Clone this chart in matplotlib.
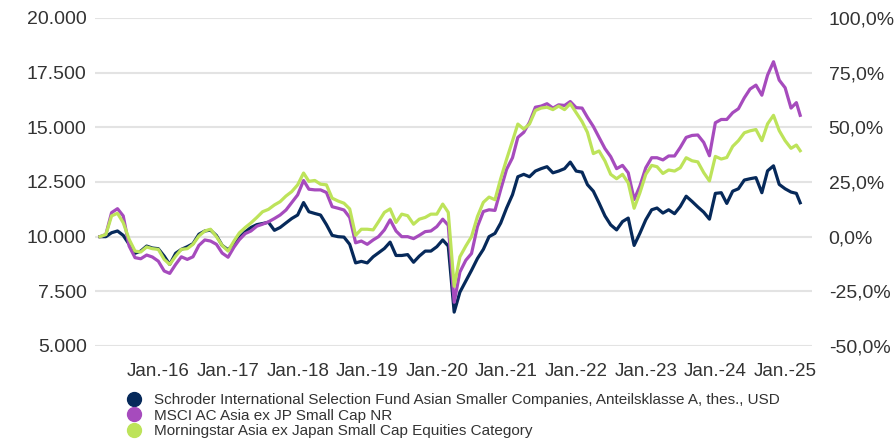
import matplotlib
matplotlib.use("Agg")
import matplotlib.pyplot as plt
import matplotlib.dates as mdates
from matplotlib.ticker import FuncFormatter, FixedLocator
from matplotlib.lines import Line2D
import pandas as pd

plt.rcParams['font.family'] = ['Liberation Sans', 'DejaVu Sans']

# monthly observations (Mar 2015 .. Mar 2025) plus last observation
dates = pd.date_range('2015-03-01', periods=121, freq='MS').append(pd.DatetimeIndex(['2025-03-21']))

schroder = [
    10000, 10000, 10180, 10260, 10060, 9650, 9240, 9340, 9570, 9480,
    9450, 9110, 8730, 9240, 9420, 9540, 9680, 10110, 10260, 10300,
    10050, 9600, 9400, 9680, 9950, 10220, 10420, 10550, 10600, 10660,
    10290, 10420, 10630, 10830, 10990, 11560, 11140, 11060, 10990, 10550,
    10060, 10000, 9980, 9650, 8800, 8870, 8800, 9080, 9260, 9460,
    9750, 9140, 9140, 9180, 8830, 9110, 9340, 9340, 9540, 9850,
    9570, 6550, 7460, 7970, 8460, 9000, 9420, 10000, 10150, 10620,
    11310, 11920, 12740, 12850, 12740, 13000, 13110, 13200, 12920, 13000,
    13110, 13410, 13000, 12950, 12380, 12080, 11540, 10950, 10540, 10310,
    10690, 10850, 9600, 10150, 10770, 11230, 11310, 11080, 11230, 11050,
    11380, 11850, 11610, 11360, 11120, 10800, 11980, 12010, 11520, 12080,
    12190, 12590, 12650, 12700, 12010, 13010, 13240, 12390, 12190, 12040,
    11980, 11550]

msci = [
    10000, 10100, 11100, 11280, 10950, 9570, 9040, 8990, 9160, 9070,
    8880, 8430, 8320, 8730, 9080, 8960, 9080, 9600, 9850, 9800,
    9650, 9250, 9060, 9520, 9860, 10140, 10260, 10480, 10570, 10680,
    10830, 10990, 11220, 11560, 11910, 12570, 12170, 12140, 12140, 12020,
    11370, 11300, 11220, 10880, 9720, 9800, 9650, 9850, 10000, 10310,
    10770, 10260, 10000, 10000, 9910, 10060, 10230, 10260, 10460, 10800,
    10520, 7000, 8380, 8920, 9230, 10460, 11150, 11230, 11200, 12150,
    13080, 13610, 14540, 14770, 15230, 15920, 15970, 16080, 15880, 16030,
    16000, 16180, 15900, 15880, 15460, 15040, 14540, 14030, 13660, 13110,
    13260, 12920, 11700, 12310, 13150, 13610, 13610, 13510, 13690, 13690,
    14080, 14540, 14630, 14650, 14310, 13700, 15210, 15360, 15360, 15670,
    15850, 16350, 16750, 16930, 16470, 17390, 18000, 17160, 16810, 15880,
    16130, 15550]

morningstar = [
    10000, 10100, 10950, 11070, 10640, 9880, 9340, 9300, 9530, 9450,
    9420, 8960, 8730, 9110, 9420, 9450, 9650, 10030, 10260, 10340,
    10000, 9600, 9340, 9800, 10170, 10420, 10630, 10880, 11140, 11250,
    11450, 11600, 11860, 12060, 12370, 12910, 12530, 12570, 12400, 12370,
    11760, 11630, 11530, 11270, 10060, 10340, 10340, 10310, 10680, 11110,
    11270, 10650, 11030, 10960, 10570, 10800, 10880, 11030, 11030, 11490,
    11110, 7730, 9080, 9570, 10000, 10920, 11570, 11810, 11690, 12650,
    13540, 14380, 15150, 14920, 15150, 15770, 15880, 15920, 15810, 15970,
    15810, 16080, 15670, 15260, 14770, 13800, 13920, 13460, 12850, 12650,
    12850, 12460, 11300, 12000, 12850, 13260, 13200, 12890, 13050, 13000,
    13150, 13610, 13470, 13420, 12930, 12550, 13670, 13550, 13620, 14130,
    14390, 14750, 14840, 14900, 14390, 15160, 15550, 14850, 14390, 14040,
    14190, 13930]

series_names = [
    'Schroder International Selection Fund Asian Smaller Companies, Anteilsklasse A, thes., USD',
    'MSCI AC Asia ex JP Small Cap NR',
    'Morningstar Asia ex Japan Small Cap Equities Category',
]
colors = ['#06295a', '#a64bbd', '#bde35a']
left_ticks = [5000, 7500, 10000, 12500, 15000, 17500, 20000]
right_ticks = [-50, -25, 0, 25, 50, 75, 100]
year_ticks = ['2016', '2017', '2018', '2019', '2020', '2021', '2022', '2023', '2024', '2025']

fig = plt.figure(figsize=(8.96, 4.45), dpi=100)
ax = fig.add_axes([95/896, 1-346/445, (812-95)/896, (346-18)/445])

for vals, c, z in zip([schroder, msci, morningstar], colors, [3, 4, 5]):
    ax.plot(dates, vals, color=c, lw=2.3, zorder=z, solid_joinstyle='round')

ax.set_ylim(5000, 20000)
ax.yaxis.set_major_locator(FixedLocator(left_ticks))
ax.yaxis.set_major_formatter(FuncFormatter(lambda v, p: f"{int(v):,}".replace(',', '.')))
ax.set_xlim(dates[0] - pd.Timedelta(days=26), dates[-1] + pd.Timedelta(days=62))
ax.xaxis.set_major_locator(FixedLocator([mdates.date2num(pd.Timestamp(y + '-01-01')) for y in year_ticks]))
ax.xaxis.set_major_formatter(FuncFormatter(lambda v, p: 'Jan.-' + mdates.num2date(v).strftime('%y')))

ax.grid(axis='y', color='#e3e3e3', lw=1.5, zorder=0)
ax.set_axisbelow(True)
for s in ax.spines.values():
    s.set_visible(False)
ax.tick_params(axis='both', length=0, colors='#333333')
ax.tick_params(axis='y', labelsize=14, pad=6)
ax.tick_params(axis='x', labelsize=13.5, pad=12)

ax2 = ax.twinx()
ax2.set_ylim(-50, 100)
ax2.yaxis.set_major_locator(FixedLocator(right_ticks))
ax2.yaxis.set_major_formatter(FuncFormatter(lambda v, p: f"{v:.1f}".replace('.', ',') + '%'))
for s in ax2.spines.values():
    s.set_visible(False)
ax2.tick_params(axis='y', length=0, labelsize=14, pad=12, colors='#333333')

handles = [Line2D([], [], marker='o', ls='none', markersize=10, markerfacecolor=c, markeredgecolor=c) for c in colors]
leg = fig.legend(handles, series_names, loc='upper left', bbox_to_anchor=(126/896, 1-393/445),
                 frameon=False, fontsize=11, handlelength=1.0, handletextpad=0.8,
                 labelspacing=0.1, borderpad=0, borderaxespad=0)
for t in leg.get_texts():
    t.set_color('#333333')

fig.savefig('out.png', dpi=100)
